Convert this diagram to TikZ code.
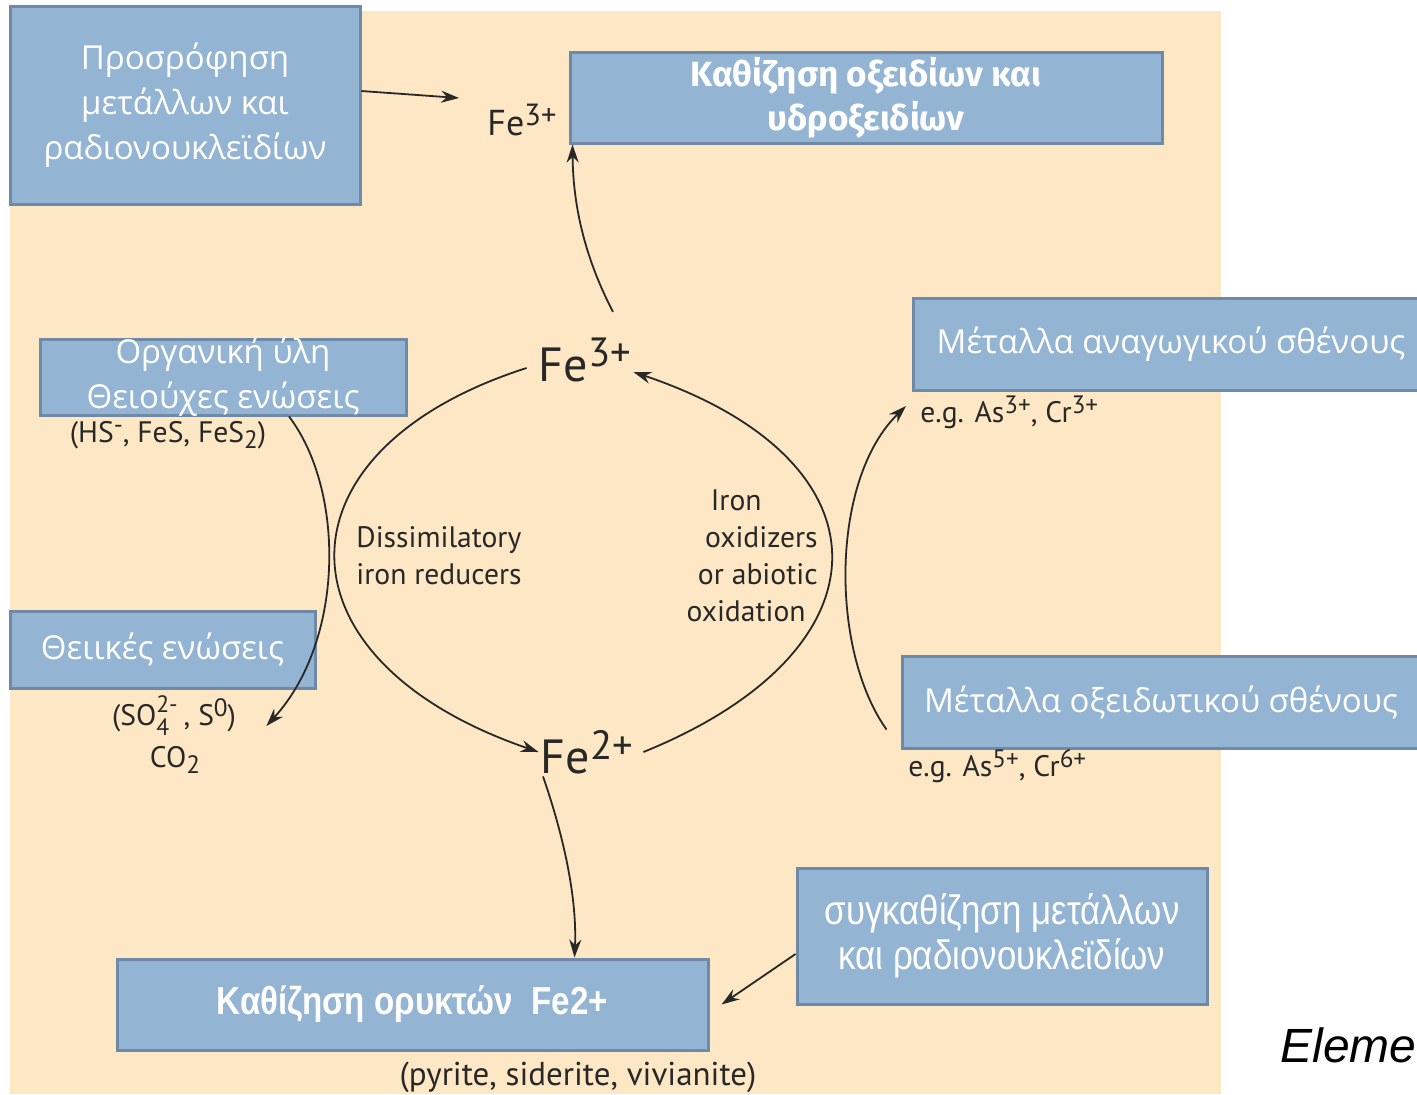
\documentclass[tikz,border=0pt]{standalone}
\usepackage{fontspec}
\usepackage{graphicx}
\setmainfont{Open Sans}
\newfontfamily\labfont{PT Sans}
\newfontfamily\headfont{Fira Sans}
\newfontfamily\condfont[FakeStretch=0.85]{Liberation Sans}
\newfontfamily\italfont{Liberation Sans}
\usetikzlibrary{arrows.meta}
\definecolor{beige}{RGB}{253,231,196}
\definecolor{boxfill}{RGB}{148,180,212}
\definecolor{boxline}{RGB}{110,138,166}
\definecolor{ink}{RGB}{40,40,40}
% charges and indices, set nearly full size
\newcommand{\chg}[1]{\raisebox{0.6ex}{\scalebox{0.85}{#1}}}
\newcommand{\idx}[1]{\raisebox{-0.45ex}{\scalebox{0.85}{#1}}}
\newcommand{\idxchg}[2]{\rlap{\raisebox{-0.7ex}{\scalebox{0.8}{#1}}}\raisebox{0.85ex}{\scalebox{0.8}{#2}}}

\begin{document}
\begin{tikzpicture}[x=0.5pt, y=-0.5pt, >={Stealth[length=9pt,width=6pt]},
    box/.style={draw=boxline, line width=1.5pt, fill=boxfill, text=white,
        inner sep=0pt, align=center, font=\fontsize{16.5}{22.5}\selectfont},
    lbl/.style={text=ink, inner sep=1pt, font=\labfont\fontsize{14.8}{18.5}\selectfont},
    ion/.style={text=ink, inner sep=3pt, font=\labfont\fontsize{24}{28}\selectfont},
    arr/.style={->, line width=0.9pt, draw=ink}]

    \useasboundingbox (0,0) rectangle (1417,1094);
    \clip (0,0) rectangle (1417,1094);
    \fill[beige] (10,11) rectangle (1221,1094);

    % boxes
    \node[box, minimum width=175pt, minimum height=99pt] (sorb) at (185,105)
        {Προσρόφηση\\μετάλλων και\\ραδιονουκλεϊδίων};
    \node[box, minimum width=296pt, minimum height=45.5pt,
        font=\headfont\bfseries\fontsize{17.5}{22}\selectfont] (oxhyd) at (866,97.5)
        {Καθίζηση οξειδίων και\\υδροξειδίων};
    \node[box, minimum width=183pt, minimum height=38pt] (org) at (223,377) {};
    \node[text=white, align=center, font=\fontsize{16.5}{22.5}\selectfont] at (org.center)
        {Οργανική ύλη\\Θειούχες ενώσεις};
    \node[box, minimum width=152.5pt, minimum height=38.5pt] (sulf) at (162.5,649.5)
        {Θειικές ενώσεις};
    \node[box, minimum width=258pt, minimum height=46pt] (redm) at (1171,344)
        {Μέταλλα αναγωγικού σθένους};
    \node[box, minimum width=259pt, minimum height=46pt] (oxm) at (1161,702)
        {Μέταλλα οξειδωτικού σθένους};
    \node[box, minimum width=205pt, minimum height=68pt,
        font=\condfont\fontsize{20.5}{22.5}\selectfont] (cop) at (1002,936)
        {συγκαθίζηση μετάλλων\\και ραδιονουκλεϊδίων};
    \node[box, minimum width=295.5pt, minimum height=45.5pt,
        font=\condfont\bfseries\fontsize{19.5}{22}\selectfont] (min) at (412.5,1004.5)
        {Καθίζηση ορυκτών\ \ Fe2+};

    % species and labels
    \node[lbl, font=\labfont\fontsize{18}{20}\selectfont] (fe3top) at (522,120) {Fe\chg{3+}};
    \node[ion] (fe3) at (585,360) {Fe\chg{3+}};
    \node[ion] (fe2) at (587,752) {Fe\chg{2+}};
    \node[lbl] (hs) at (168,435) {(HS\chg{-}, FeS, FeS\idx{2})};
    \node[lbl] (so4) at (174,716) {(SO\idxchg{4}{2-}\hspace{3pt}, S\chg{0})};
    \node[lbl] (co2) at (175,760) {CO\idx{2}};
    \node[lbl, anchor=west] (eg3) at (918,412) {e.g. As\chg{3+}, Cr\chg{3+}};
    \node[lbl, anchor=west] (eg5) at (906,766) {e.g. As\chg{5+}, Cr\chg{6+}};
    \node[lbl, anchor=west, align=left] (diss) at (354,556) {Dissimilatory\\iron reducers};
    \node[lbl, anchor=east, align=right] (ox) at (820,556)
        {Iron\hspace*{28pt}\\oxidizers\\or abiotic\\oxidation\hspace*{6pt}};
    \node[lbl, font=\labfont\fontsize{16.5}{18}\selectfont] (minr) at (578,1077)
        {(pyrite, siderite, vivianite)};
    \node[anchor=west, inner sep=0pt, font=\italfont\itshape\fontsize{24}{28}\selectfont] (src)
        at (1280,1045) {Eleme};

    % connectors
    \draw[arr] ([yshift=7pt]sorb.east) -- ([xshift=-13pt,yshift=11pt]fe3top.west);
    \draw[arr] ([xshift=14pt,yshift=10pt]fe3.north) .. controls (587,262) and (573,210)
        .. ([xshift=2pt]oxhyd.south west);
    \draw[arr] ([xshift=-3pt,yshift=-4pt]fe3.west) .. controls (270,450) and (270,660)
        .. ([xshift=2pt,yshift=0pt]fe2.west);
    \draw[arr] ([xshift=2pt]fe2.east) .. controls (895,650) and (895,460)
        .. ([xshift=-2pt,yshift=-6pt]fe3.east);
    \draw[arr] ([xshift=33pt]org.south) .. controls (345,490) and (345,640)
        .. ([xshift=14pt,yshift=-5pt]so4.east);
    \draw[arr] ([xshift=-7pt,yshift=10pt]oxm.south west) .. controls (830,650) and (830,480)
        .. ([xshift=-6pt,yshift=3pt]eg3.west);
    \draw[arr] ([xshift=-22pt,yshift=2pt]fe2.south) .. controls (565,840) and (577,900)
        .. ([xshift=81pt]min.north);
    \draw[arr] ([yshift=-9pt]cop.west) -- ([xshift=6pt]min.east);
\end{tikzpicture}
\end{document}
